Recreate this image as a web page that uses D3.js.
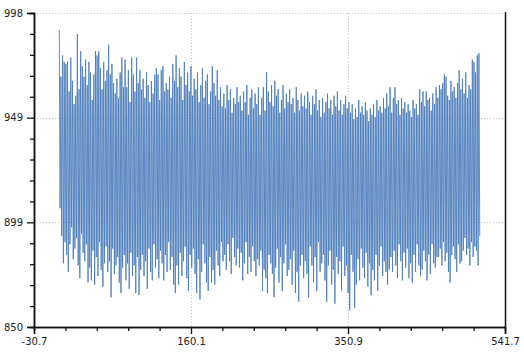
<!DOCTYPE html>
<html>
<head>
<meta charset="utf-8">
<script src="https://cdn.jsdelivr.net/npm/d3@7"></script>
<style>
  html, body { margin: 0; padding: 0; background: #fff; }
  svg { display: block; }
</style>
</head>
<body>
<svg id="chart" width="524" height="358"></svg>
<script>
const values = [
  990, 906, 968, 893, 978, 880, 975, 890, 974, 884, 975, 876, 961, 889, 977, 897, 966, 882, 955, 887,
  959, 892, 988, 879, 962, 873, 980, 894, 973, 885, 968, 881, 976, 889, 964, 871, 975, 878, 970, 872,
  957, 886, 969, 870, 980, 883, 978, 874, 980, 890, 972, 877, 962, 869, 975, 880, 966, 888, 971, 876,
  983, 881, 969, 864, 974, 887, 965, 875, 960, 879, 967, 883, 958, 871, 970, 866, 977, 878, 963, 884,
  976, 872, 963, 880, 971, 868, 956, 885, 977, 874, 969, 879, 961, 866, 977, 883, 965, 865, 971, 877,
  962, 884, 967, 874, 958, 881, 970, 868, 964, 887, 956, 876, 966, 872, 960, 889, 969, 878, 972, 882,
  969, 873, 957, 886, 971, 880, 973, 872, 961, 884, 965, 876, 962, 890, 968, 877, 958, 883, 974, 870,
  966, 866, 978, 879, 963, 870, 972, 885, 968, 874, 957, 881, 975, 888, 964, 873, 970, 867, 961, 884,
  973, 878, 959, 887, 967, 875, 962, 866, 970, 882, 956, 863, 964, 876, 972, 889, 958, 880, 966, 871,
  969, 867, 955, 883, 961, 871, 973, 877, 965, 870, 959, 886, 971, 879, 957, 874, 963, 890, 954, 881,
  960, 884, 953, 877, 964, 889, 957, 881, 962, 875, 951, 892, 958, 883, 955, 879, 963, 887, 956, 878,
  959, 885, 952, 872, 961, 880, 956, 890, 964, 875, 950, 883, 958, 876, 962, 888, 953, 881, 960, 874,
  955, 882, 963, 879, 950, 886, 958, 867, 963, 877, 952, 873, 970, 866, 961, 884, 956, 880, 964, 875,
  954, 864, 966, 878, 959, 887, 962, 871, 951, 883, 957, 867, 964, 880, 953, 889, 960, 874, 956, 877,
  962, 882, 955, 870, 958, 886, 951, 866, 963, 876, 957, 862, 952, 879, 960, 884, 954, 873, 959, 881,
  953, 875, 961, 864, 956, 888, 950, 879, 959, 871, 955, 883, 962, 867, 952, 890, 957, 876, 949, 880,
  958, 884, 951, 872, 956, 862, 960, 879, 953, 886, 957, 870, 950, 877, 959, 861, 954, 883, 961, 875,
  952, 881, 957, 867, 950, 888, 955, 874, 959, 879, 953, 866, 956, 858, 951, 884, 955, 876, 948, 859,
  953, 870, 949, 882, 957, 872, 951, 887, 954, 878, 950, 873, 956, 885, 952, 869, 947, 880, 953, 865,
  950, 877, 955, 872, 949, 884, 957, 867, 952, 879, 954, 888, 951, 874, 958, 881, 953, 876, 960, 870,
  954, 877, 963, 883, 951, 876, 958, 886, 963, 879, 955, 873, 957, 889, 950, 881, 958, 872, 953, 885,
  956, 878, 951, 887, 955, 873, 952, 880, 949, 871, 957, 884, 953, 876, 955, 889, 950, 879, 962, 874,
  956, 877, 961, 886, 954, 881, 961, 872, 957, 884, 958, 875, 952, 889, 960, 880, 955, 878, 963, 883,
  958, 883, 964, 887, 962, 879, 965, 890, 969, 881, 968, 885, 959, 876, 957, 871, 966, 884, 961, 888,
  963, 882, 958, 876, 965, 889, 971, 880, 962, 881, 967, 886, 960, 892, 970, 884, 958, 887, 964, 879,
  962, 890, 976, 883, 975, 888, 970, 886, 978, 879, 979, 893
];
const xDomain = [-30.7, 541.7];
const yDomain = [850, 998];
const xTickValues = [-30.7, 160.1, 350.9, 541.7];
const xTickLabels = ["-30.7", "160.1", "350.9", "541.7"];
const yTickValues = [850, 899.333, 948.667, 998];
const yTickLabels = ["850", "899", "949", "998"];

const svg = d3.select("#chart");
const mLeft = 34, mRight = 505, mTop = 13, mBottom = 327;
const x = d3.scaleLinear().domain(xDomain).range([mLeft, mRight]);
const y = d3.scaleLinear().domain(yDomain).range([mBottom, mTop]);

function minorTicks(majors) {
  const out = [];
  for (let i = 0; i < majors.length - 1; i++) {
    const step = (majors[i + 1] - majors[i]) / 5;
    for (let k = 1; k < 5; k++) out.push(majors[i] + step * k);
  }
  return out;
}

// gridlines
const grid = svg.append("g");
grid.selectAll("line.gx").data(xTickValues.slice(1, -1)).join("line")
  .attr("x1", d => Math.round(x(d)) + 0.5).attr("x2", d => Math.round(x(d)) + 0.5)
  .attr("y1", mTop).attr("y2", mBottom)
  .attr("stroke", "#c4c4c4").attr("stroke-dasharray", "1,2");
grid.selectAll("line.gy").data(yTickValues.slice(1)).join("line")
  .attr("y1", d => Math.round(y(d)) + 0.5).attr("y2", d => Math.round(y(d)) + 0.5)
  .attr("x1", mLeft).attr("x2", mRight)
  .attr("stroke", "#c4c4c4").attr("stroke-dasharray", "1,2");

// data line
const line = d3.line().x((d, i) => x(i)).y(d => y(d));
svg.append("path").datum(values)
  .attr("d", line)
  .attr("fill", "none")
  .attr("stroke", "#4f7fbd")
  .attr("stroke-width", 1)
  .attr("stroke-opacity", 0.9);

// right border
svg.append("line")
  .attr("x1", mRight + 0.5).attr("x2", mRight + 0.5)
  .attr("y1", mTop - 1).attr("y2", mBottom)
  .attr("stroke", "#111").attr("stroke-width", 1.5);

// axes
const xAxisMinor = d3.axisBottom(x).tickValues(minorTicks(xTickValues)).tickSize(4).tickFormat("");
const xAxis = d3.axisBottom(x).tickValues(xTickValues).tickSize(7).tickPadding(4)
  .tickFormat((d, i) => xTickLabels[i]);
const yAxisMinor = d3.axisLeft(y).tickValues(minorTicks(yTickValues)).tickSize(4).tickFormat("");
const yAxis = d3.axisLeft(y).tickValues(yTickValues).tickSize(7).tickPadding(4)
  .tickFormat((d, i) => yTickLabels[i]);

function style(g) {
  g.select(".domain").attr("stroke", "#111").attr("stroke-width", 1.5);
  g.selectAll(".tick line").attr("stroke", "#111").attr("stroke-width", 1.3);
  g.selectAll(".tick text").attr("fill", "#222")
    .style("font-family", "'DejaVu Sans', Verdana, sans-serif").style("font-size", "10px");
}
svg.append("g").attr("transform", `translate(0,${mBottom})`).call(xAxisMinor).call(style);
svg.append("g").attr("transform", `translate(0,${mBottom})`).call(xAxis).call(style);
svg.append("g").attr("transform", `translate(${mLeft},0)`).call(yAxisMinor).call(style);
svg.append("g").attr("transform", `translate(${mLeft},0)`).call(yAxis).call(style);
</script>
</body>
</html>
